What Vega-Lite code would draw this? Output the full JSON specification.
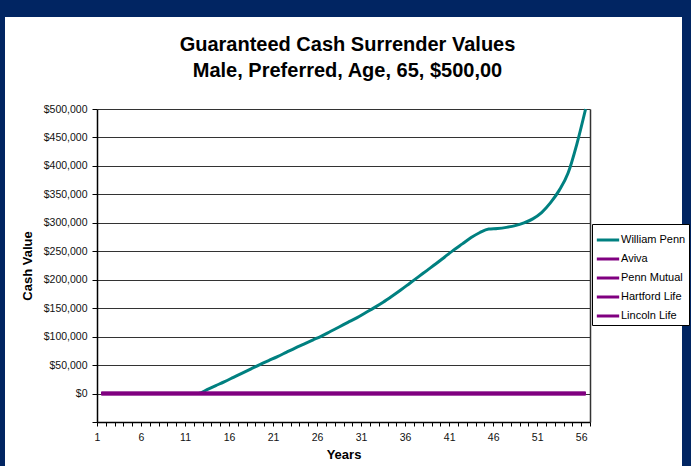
{
  "$schema": "https://vega.github.io/schema/vega-lite/v6.json",
  "width": 493,
  "height": 313,
  "autosize": {"type": "none"},
  "padding": {"left": 97, "top": 109, "right": 101, "bottom": 44},
  "background": "#012562",
  "config": {
    "view": {"fill": "#ffffff", "stroke": "#ffffff", "strokeWidth": 184, "strokeJoin": "miter"},
    "font": "Liberation Sans"
  },
  "title": {
    "text": ["Guaranteed Cash Surrender Values", "Male, Preferred, Age, 65, $500,00"],
    "fontSize": 20,
    "font": "Liberation Sans",
    "fontWeight": "bold",
    "color": "#000000",
    "lineHeight": 26,
    "offset": 22,
    "dx": 4,
    "anchor": "middle"
  },
  "data": {
    "values": [
      {"Year": 1, "William Penn": 0, "Aviva": 0, "Penn Mutual": 0, "Hartford Life": 0, "Lincoln Life": 0},
      {"Year": 2, "William Penn": 0, "Aviva": 0, "Penn Mutual": 0, "Hartford Life": 0, "Lincoln Life": 0},
      {"Year": 3, "William Penn": 0, "Aviva": 0, "Penn Mutual": 0, "Hartford Life": 0, "Lincoln Life": 0},
      {"Year": 4, "William Penn": 0, "Aviva": 0, "Penn Mutual": 0, "Hartford Life": 0, "Lincoln Life": 0},
      {"Year": 5, "William Penn": 0, "Aviva": 0, "Penn Mutual": 0, "Hartford Life": 0, "Lincoln Life": 0},
      {"Year": 6, "William Penn": 0, "Aviva": 0, "Penn Mutual": 0, "Hartford Life": 0, "Lincoln Life": 0},
      {"Year": 7, "William Penn": 0, "Aviva": 0, "Penn Mutual": 0, "Hartford Life": 0, "Lincoln Life": 0},
      {"Year": 8, "William Penn": 0, "Aviva": 0, "Penn Mutual": 0, "Hartford Life": 0, "Lincoln Life": 0},
      {"Year": 9, "William Penn": 0, "Aviva": 0, "Penn Mutual": 0, "Hartford Life": 0, "Lincoln Life": 0},
      {"Year": 10, "William Penn": 0, "Aviva": 0, "Penn Mutual": 0, "Hartford Life": 0, "Lincoln Life": 0},
      {"Year": 11, "William Penn": 0, "Aviva": 0, "Penn Mutual": 0, "Hartford Life": 0, "Lincoln Life": 0},
      {"Year": 12, "William Penn": 0, "Aviva": 0, "Penn Mutual": 0, "Hartford Life": 0, "Lincoln Life": 0},
      {"Year": 13, "William Penn": 7000, "Aviva": 0, "Penn Mutual": 0, "Hartford Life": 0, "Lincoln Life": 0},
      {"Year": 14, "William Penn": 14000, "Aviva": 0, "Penn Mutual": 0, "Hartford Life": 0, "Lincoln Life": 0},
      {"Year": 15, "William Penn": 21000, "Aviva": 0, "Penn Mutual": 0, "Hartford Life": 0, "Lincoln Life": 0},
      {"Year": 16, "William Penn": 28500, "Aviva": 0, "Penn Mutual": 0, "Hartford Life": 0, "Lincoln Life": 0},
      {"Year": 17, "William Penn": 36000, "Aviva": 0, "Penn Mutual": 0, "Hartford Life": 0, "Lincoln Life": 0},
      {"Year": 18, "William Penn": 43500, "Aviva": 0, "Penn Mutual": 0, "Hartford Life": 0, "Lincoln Life": 0},
      {"Year": 19, "William Penn": 51000, "Aviva": 0, "Penn Mutual": 0, "Hartford Life": 0, "Lincoln Life": 0},
      {"Year": 20, "William Penn": 58000, "Aviva": 0, "Penn Mutual": 0, "Hartford Life": 0, "Lincoln Life": 0},
      {"Year": 21, "William Penn": 65000, "Aviva": 0, "Penn Mutual": 0, "Hartford Life": 0, "Lincoln Life": 0},
      {"Year": 22, "William Penn": 72500, "Aviva": 0, "Penn Mutual": 0, "Hartford Life": 0, "Lincoln Life": 0},
      {"Year": 23, "William Penn": 80000, "Aviva": 0, "Penn Mutual": 0, "Hartford Life": 0, "Lincoln Life": 0},
      {"Year": 24, "William Penn": 87000, "Aviva": 0, "Penn Mutual": 0, "Hartford Life": 0, "Lincoln Life": 0},
      {"Year": 25, "William Penn": 94000, "Aviva": 0, "Penn Mutual": 0, "Hartford Life": 0, "Lincoln Life": 0},
      {"Year": 26, "William Penn": 101000, "Aviva": 0, "Penn Mutual": 0, "Hartford Life": 0, "Lincoln Life": 0},
      {"Year": 27, "William Penn": 109000, "Aviva": 0, "Penn Mutual": 0, "Hartford Life": 0, "Lincoln Life": 0},
      {"Year": 28, "William Penn": 117000, "Aviva": 0, "Penn Mutual": 0, "Hartford Life": 0, "Lincoln Life": 0},
      {"Year": 29, "William Penn": 125000, "Aviva": 0, "Penn Mutual": 0, "Hartford Life": 0, "Lincoln Life": 0},
      {"Year": 30, "William Penn": 133000, "Aviva": 0, "Penn Mutual": 0, "Hartford Life": 0, "Lincoln Life": 0},
      {"Year": 31, "William Penn": 142000, "Aviva": 0, "Penn Mutual": 0, "Hartford Life": 0, "Lincoln Life": 0},
      {"Year": 32, "William Penn": 151000, "Aviva": 0, "Penn Mutual": 0, "Hartford Life": 0, "Lincoln Life": 0},
      {"Year": 33, "William Penn": 160500, "Aviva": 0, "Penn Mutual": 0, "Hartford Life": 0, "Lincoln Life": 0},
      {"Year": 34, "William Penn": 171000, "Aviva": 0, "Penn Mutual": 0, "Hartford Life": 0, "Lincoln Life": 0},
      {"Year": 35, "William Penn": 182000, "Aviva": 0, "Penn Mutual": 0, "Hartford Life": 0, "Lincoln Life": 0},
      {"Year": 36, "William Penn": 193500, "Aviva": 0, "Penn Mutual": 0, "Hartford Life": 0, "Lincoln Life": 0},
      {"Year": 37, "William Penn": 205000, "Aviva": 0, "Penn Mutual": 0, "Hartford Life": 0, "Lincoln Life": 0},
      {"Year": 38, "William Penn": 216500, "Aviva": 0, "Penn Mutual": 0, "Hartford Life": 0, "Lincoln Life": 0},
      {"Year": 39, "William Penn": 228000, "Aviva": 0, "Penn Mutual": 0, "Hartford Life": 0, "Lincoln Life": 0},
      {"Year": 40, "William Penn": 240000, "Aviva": 0, "Penn Mutual": 0, "Hartford Life": 0, "Lincoln Life": 0},
      {"Year": 41, "William Penn": 252000, "Aviva": 0, "Penn Mutual": 0, "Hartford Life": 0, "Lincoln Life": 0},
      {"Year": 42, "William Penn": 263000, "Aviva": 0, "Penn Mutual": 0, "Hartford Life": 0, "Lincoln Life": 0},
      {"Year": 43, "William Penn": 274000, "Aviva": 0, "Penn Mutual": 0, "Hartford Life": 0, "Lincoln Life": 0},
      {"Year": 44, "William Penn": 283000, "Aviva": 0, "Penn Mutual": 0, "Hartford Life": 0, "Lincoln Life": 0},
      {"Year": 45, "William Penn": 289000, "Aviva": 0, "Penn Mutual": 0, "Hartford Life": 0, "Lincoln Life": 0},
      {"Year": 46, "William Penn": 290000, "Aviva": 0, "Penn Mutual": 0, "Hartford Life": 0, "Lincoln Life": 0},
      {"Year": 47, "William Penn": 292000, "Aviva": 0, "Penn Mutual": 0, "Hartford Life": 0, "Lincoln Life": 0},
      {"Year": 48, "William Penn": 295000, "Aviva": 0, "Penn Mutual": 0, "Hartford Life": 0, "Lincoln Life": 0},
      {"Year": 49, "William Penn": 300000, "Aviva": 0, "Penn Mutual": 0, "Hartford Life": 0, "Lincoln Life": 0},
      {"Year": 50, "William Penn": 307000, "Aviva": 0, "Penn Mutual": 0, "Hartford Life": 0, "Lincoln Life": 0},
      {"Year": 51, "William Penn": 318000, "Aviva": 0, "Penn Mutual": 0, "Hartford Life": 0, "Lincoln Life": 0},
      {"Year": 52, "William Penn": 335000, "Aviva": 0, "Penn Mutual": 0, "Hartford Life": 0, "Lincoln Life": 0},
      {"Year": 53, "William Penn": 357000, "Aviva": 0, "Penn Mutual": 0, "Hartford Life": 0, "Lincoln Life": 0},
      {"Year": 54, "William Penn": 387000, "Aviva": 0, "Penn Mutual": 0, "Hartford Life": 0, "Lincoln Life": 0},
      {"Year": 55, "William Penn": 438000, "Aviva": 0, "Penn Mutual": 0, "Hartford Life": 0, "Lincoln Life": 0},
      {"Year": 56, "William Penn": 500000, "Aviva": 0, "Penn Mutual": 0, "Hartford Life": 0, "Lincoln Life": 0}
    ]
  },
  "transform": [
    {"fold": ["William Penn", "Aviva", "Penn Mutual", "Hartford Life", "Lincoln Life"], "as": ["Company", "Value"]}
  ],
  "encoding": {
    "x": {
      "field": "Year",
      "type": "quantitative",
      "scale": {"domain": [0.5, 56.5], "nice": false, "zero": false},
      "axis": {
        "title": "Years",
        "titleFont": "Liberation Sans",
        "titleFontSize": 13,
        "titleFontWeight": "bold",
        "titleColor": "#000000",
        "titlePadding": 6,
        "values": [0.5, 1.5, 2.5, 3.5, 4.5, 5.5, 6.5, 7.5, 8.5, 9.5, 10.5, 11.5, 12.5, 13.5, 14.5, 15.5, 16.5, 17.5, 18.5, 19.5, 20.5, 21.5, 22.5, 23.5, 24.5, 25.5, 26.5, 27.5, 28.5, 29.5, 30.5, 31.5, 32.5, 33.5, 34.5, 35.5, 36.5, 37.5, 38.5, 39.5, 40.5, 41.5, 42.5, 43.5, 44.5, 45.5, 46.5, 47.5, 48.5, 49.5, 50.5, 51.5, 52.5, 53.5, 54.5, 55.5, 56.5],
        "labelExpr": "datum.value % 5 == 0.5 ? format(datum.value + 0.5, 'd') : ''",
        "labelDx": 4.4,
        "labelAlign": "center",
        "labelOverlap": false,
        "labelFlush": false,
        "labelBound": false,
        "labelFont": "Liberation Sans",
        "labelFontSize": 10.5,
        "labelColor": "#111111",
        "labelPadding": 6,
        "tickSize": 4,
        "tickColor": "#000000",
        "domainColor": "#000000",
        "domainWidth": 1.5,
        "grid": false
      }
    },
    "y": {
      "field": "Value",
      "type": "quantitative",
      "scale": {"domain": [-50000, 500000], "nice": false, "zero": false},
      "axis": {
        "title": "Cash Value",
        "titleFont": "Liberation Sans",
        "titleFontSize": 13,
        "titleFontWeight": "bold",
        "titleColor": "#000000",
        "titlePadding": 9,
        "values": [-50000, 0, 50000, 100000, 150000, 200000, 250000, 300000, 350000, 400000, 450000, 500000],
        "labelExpr": "datum.value < 0 ? '' : format(datum.value, '$,.0f')",
        "labelFont": "Liberation Sans",
        "labelFontSize": 10.5,
        "labelColor": "#111111",
        "labelPadding": 5,
        "tickSize": 5,
        "tickColor": "#000000",
        "domainColor": "#000000",
        "domainWidth": 1.5,
        "grid": true,
        "gridColor": "#000000",
        "gridOpacity": 0.8,
        "gridWidth": 1
      }
    },
    "color": {
      "field": "Company",
      "type": "nominal",
      "scale": {
        "domain": ["William Penn", "Aviva", "Penn Mutual", "Hartford Life", "Lincoln Life"],
        "range": ["#008080", "#800080", "#800080", "#800080", "#800080"]
      },
      "legend": {
        "title": null,
        "orient": "none",
        "legendX": 495,
        "legendY": 115,
        "strokeColor": "#000000",
        "fillColor": "#ffffff",
        "padding": 3,
        "symbolType": "stroke",
        "symbolStrokeWidth": 3,
        "symbolSize": 500,
        "labelFont": "Liberation Sans",
        "labelFontSize": 11,
        "labelColor": "#000000",
        "labelOffset": 0,
        "rowPadding": -1
      }
    }
  },
  "layer": [
    {
      "transform": [{"filter": "datum.Company == 'William Penn'"}],
      "mark": {"type": "line", "strokeWidth": 3, "interpolate": "monotone"}
    },
    {
      "transform": [{"filter": "datum.Company != 'William Penn'"}],
      "mark": {"type": "line", "strokeWidth": 3.5},
      "encoding": {
        "y": {
          "field": "Value",
          "type": "quantitative",
          "axis": {
            "orient": "right",
            "title": null,
            "labels": false,
            "ticks": false,
            "grid": false,
            "domain": true,
            "domainColor": "#333333",
            "domainWidth": 1.5
          }
        }
      }
    }
  ],
  "resolve": {"axis": {"y": "independent"}}
}
